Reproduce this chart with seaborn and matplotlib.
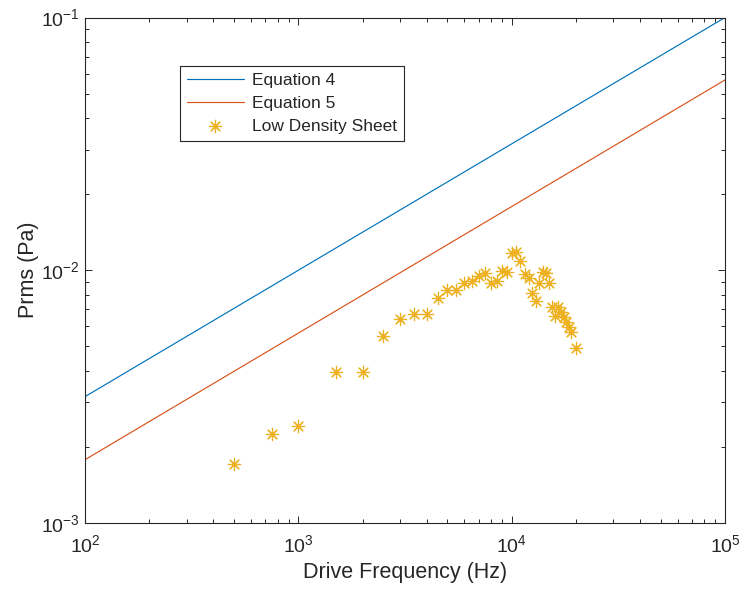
import numpy as np
import pandas as pd
import matplotlib
matplotlib.use("Agg")
import matplotlib.pyplot as plt
import seaborn as sns
from matplotlib.ticker import LogLocator, NullFormatter

# ---- data ----
line_freq = [1e2, 1e5]
eq4_vals = [3.162e-3, 1.0e-1]
eq5_vals = [1.78e-3, 5.66e-2]

sheet_freq = [500, 750, 1000, 1500, 2000, 2500, 3000, 3500, 4000, 4500,
              5000, 5500, 6000, 6500, 7000, 7500, 8000, 8500, 9000, 9500,
              10000, 10500, 11000, 11500, 12000, 12500, 13000, 13500, 14000, 14500,
              15000, 15500, 16500, 16000, 17000, 17500, 18000, 18500, 19000, 20000]
sheet_prms = [1.71e-3, 2.25e-3, 2.42e-3, 3.96e-3, 3.96e-3, 5.5e-3, 6.41e-3, 6.72e-3, 6.7e-3, 7.74e-3,
              8.35e-3, 8.33e-3, 8.94e-3, 9.06e-3, 9.51e-3, 9.72e-3, 8.93e-3, 9.06e-3, 9.95e-3, 9.86e-3,
              1.17e-2, 1.18e-2, 1.09e-2, 9.66e-3, 9.29e-3, 8.1e-3, 7.58e-3, 8.93e-3, 9.87e-3, 9.72e-3,
              8.93e-3, 7.18e-3, 7.18e-3, 6.59e-3, 6.86e-3, 6.51e-3, 6.25e-3, 5.98e-3, 5.71e-3, 4.91e-3]

series_names = ["Equation 4", "Equation 5", "Low Density Sheet"]
colors = ["#0072BD", "#D95319", "#EDB120"]

sns.set_style("ticks")
plt.rcParams["font.family"] = ["Liberation Sans", "DejaVu Sans"]
plt.rcParams["axes.edgecolor"] = "#262626"
plt.rcParams["xtick.color"] = "#262626"
plt.rcParams["ytick.color"] = "#262626"

fig = plt.figure(figsize=(7.47, 6.0), dpi=100)
ax = fig.add_axes([85/747, 1 - 523/600, 640/747, 505.5/600])

df4 = pd.DataFrame({"f": line_freq, "p": eq4_vals})
df5 = pd.DataFrame({"f": line_freq, "p": eq5_vals})
dfs = pd.DataFrame({"f": sheet_freq, "p": sheet_prms})

sns.lineplot(data=df4, x="f", y="p", ax=ax, color=colors[0], linewidth=0.85, label=series_names[0])
sns.lineplot(data=df5, x="f", y="p", ax=ax, color=colors[1], linewidth=0.85, label=series_names[1])
sns.scatterplot(data=dfs, x="f", y="p", ax=ax, color=colors[2], marker=(8, 2, 0), s=80,
                linewidth=0.85, label=series_names[2])

ax.set_xscale("log")
ax.set_yscale("log")
ax.set_xlim(1e2, 1e5)
ax.set_ylim(1e-3, 1e-1)

ax.xaxis.set_minor_locator(LogLocator(base=10, subs=np.arange(2, 10)))
ax.yaxis.set_minor_locator(LogLocator(base=10, subs=np.arange(2, 10)))
ax.xaxis.set_minor_formatter(NullFormatter())
ax.yaxis.set_minor_formatter(NullFormatter())

ax.tick_params(which="both", direction="in", top=True, right=True, labelsize=14, width=0.7)
ax.tick_params(which="major", length=5)
ax.tick_params(which="minor", length=3)
ax.tick_params(axis="x", pad=8)
for sp in ax.spines.values():
    sp.set_linewidth(0.8)
    sp.set_visible(True)

ax.set_xlabel("Drive Frequency (Hz)", fontsize=15.5, color="#262626", labelpad=4)
ax.set_ylabel("Prms (Pa)", fontsize=15.5, color="#262626", labelpad=2)

leg = ax.legend(loc="upper left", bbox_to_anchor=(0.148, 0.904), borderaxespad=0,
                fontsize=12.5, frameon=True, fancybox=False, edgecolor="#262626",
                framealpha=1, handlelength=3.3, handletextpad=0.45, labelspacing=0.45,
                borderpad=0.4)
leg.get_frame().set_linewidth(0.8)

fig.savefig("out.png", dpi=100)
